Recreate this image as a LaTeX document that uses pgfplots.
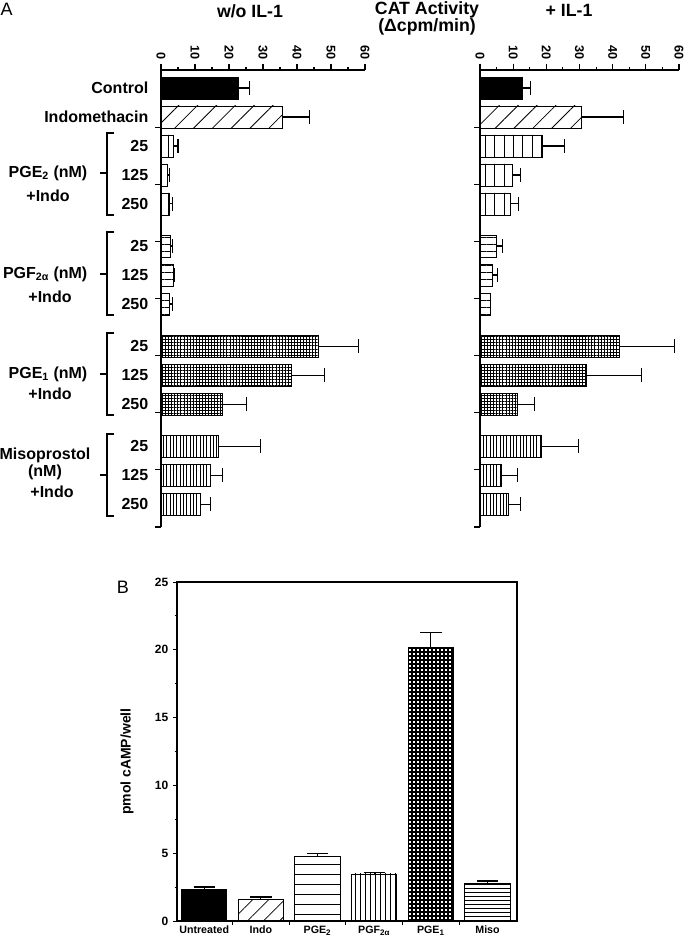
\documentclass[border=0pt]{standalone}
\usepackage{fontspec}
\setmainfont{Liberation Sans}
\usepackage{pgfplots}
\pgfplotsset{compat=1.18}
\usetikzlibrary{patterns.meta}

\pgfplotsset{
  Abase/.style={
    scale only axis, width=153pt, height=342.75pt,
    xmin=0, xmax=60, ymin=-15.14, ymax=0.62,
    axis x line=top, axis y line=left,
    axis line style={-, line width=0.9pt},
    xtick={0,10,...,60}, minor xtick={5,15,...,55},
    tick align=outside, major tick length=4.5pt, minor tick length=2.5pt,
    every tick/.style={black, line width=0.8pt},
    /pgf/number format/assume math mode=true,
    xticklabel style={rotate=-90, anchor=east, font=\bfseries\fontsize{9.5}{10}\selectfont},
    ytick={-1.349,-3.317,-5.290,-7.259,-9.228,-11.197,-13.17,-15.14},
    yticklabels={},
    clip=false,
  },
  Abarplain/.style={xbar, bar width=0.76, bar shift=0pt, draw=black, line width=0.6pt},
  Abar/.style={Abarplain,
    error bars/x dir=plus, error bars/x explicit,
    error bars/error mark=|,
    error bars/error bar style={line width=0.8pt, black, solid},
    error bars/error mark options={line width=0.8pt, black, mark size=5pt, solid}},
  Bbar/.style={ybar, bar width=0.8, bar shift=0pt, draw=black, line width=0.6pt,
    error bars/y dir=plus, error bars/y explicit,
    error bars/error mark=|,
    error bars/error bar style={line width=0.8pt, black, solid},
    error bars/error mark options={line width=0.8pt, black, mark size=8pt, solid}},
}

\begin{document}
\begin{tikzpicture}
\path[use as bounding box] (0,0) rectangle (513.75pt,-708pt);

% ---------- Panel A, left: w/o IL-1 ----------
\begin{axis}[Abase, at={(120.75pt,-395.25pt)}, anchor=south west,
  extra y ticks={0,-1,-2,-3,-4,-5.45,-6.45,-7.45,-8.9,-9.9,-10.9,-12.35,-13.35,-14.35},
  extra y tick labels={Control,Indomethacin,25,125,250,25,125,250,25,125,250,25,125,250},
  extra y tick style={major tick length=0pt, tick style={draw=none}},
  yticklabel style={font=\bfseries\fontsize{12}{13}\selectfont, anchor=east, xshift=-6pt},
]
\addplot[Abar, fill=black] coordinates {(22.9,0) +- (3.2,0)};
\addplot[Abar, fill=white, pattern={Lines[angle=45,distance=10pt,line width=0.6pt]}] coordinates {(35.8,-1) +- (7.9,0)};
\addplot[Abar, pattern={Lines[angle=90,distance=7pt,line width=0.6pt]}] coordinates {
 (3.7,-2) +- (1.3,0) (1.8,-3) +- (0.7,0) (2.5,-4) +- (0.8,0)};
\addplot[Abar, pattern={Lines[angle=0,distance=5.25pt,line width=0.6pt]}] coordinates {
 (2.9,-5.45) +- (0.6,0) (3.6,-6.45) +- (0.3,0) (2.6,-7.45) +- (0.7,0)};
\addplot[Abar, pattern={Hatch[angle=0,distance=2.3pt,line width=0.75pt]}] coordinates {
 (46.4,-8.9) +- (11.8,0) (38.4,-9.9) +- (9.7,0) (18.1,-10.9) +- (7.0,0)};
\addplot[Abar, pattern={Lines[angle=90,distance=2.5pt,line width=0.55pt]}] coordinates {
 (17.0,-12.35) +- (12.3,0) (14.6,-13.35) +- (3.4,0) (11.5,-14.35) +- (3.1,0)};
\end{axis}

% ---------- Panel A, right: + IL-1 ----------
\begin{axis}[Abase, at={(360pt,-395.25pt)}, anchor=south west, width=149.25pt]
\addplot[Abar, fill=black] coordinates {(12.8,0) +- (2.3,0)};
\addplot[Abar, fill=white, pattern={Lines[angle=45,distance=10pt,line width=0.6pt]}] coordinates {(30.5,-1) +- (12.9,0)};
\addplot[Abar, pattern={Lines[angle=90,distance=7pt,line width=0.6pt]}] coordinates {
 (18.7,-2) +- (6.7,0) (9.8,-3) +- (2.3,0) (9.2,-4) +- (2.4,0)};
\addplot[Abar, pattern={Lines[angle=0,distance=5.25pt,line width=0.6pt]}] coordinates {
 (5.0,-5.45) +- (1.9,0) (3.6,-6.45) +- (1.7,0)};
\addplot[Abarplain, pattern={Lines[angle=0,distance=5.25pt,line width=0.6pt]}] coordinates {
 (3.2,-7.45)};
\addplot[Abar, pattern={Hatch[angle=0,distance=2.3pt,line width=0.75pt]}] coordinates {
 (42.0,-8.9) +- (16.6,0) (32.0,-9.9) +- (16.8,0) (11.3,-10.9) +- (5.0,0)};
\addplot[Abar, pattern={Lines[angle=90,distance=2.5pt,line width=0.55pt]}] coordinates {
 (18.4,-12.35) +- (11.2,0) (6.6,-13.35) +- (4.7,0) (8.7,-14.35) +- (3.5,0)};
\end{axis}

% titles panel A
\node[font=\fontsize{13.5}{14}\selectfont] at (5pt,-7pt) {A};
\node[font=\bfseries\fontsize{13.3}{14}\selectfont] at (187.5pt,-8.5pt) {w/o IL-1};
\node[font=\bfseries\fontsize{13.3}{14}\selectfont] at (426.75pt,-8pt) {+ IL-1};
\node[font=\bfseries\fontsize{13.3}{14}\selectfont] at (320.25pt,-7.5pt) {CAT Activity};
\node[font=\bfseries\fontsize{13.3}{14}\selectfont] at (320.25pt,-20.5pt) {(Δcpm/min)};

% brackets and group labels
\begin{scope}[line width=0.8pt]
\foreach \t/\b/\m in {133/215/173, 232/315/274, 333/415/374, 434/516/475}{
  \draw (85.5pt,-\t*0.75pt) -- (80.25pt,-\t*0.75pt) -- (80.25pt,-\b*0.75pt) -- (85.5pt,-\b*0.75pt);
  \draw (75pt,-\m*0.75pt) -- (80.25pt,-\m*0.75pt);
}
\end{scope}
\begin{scope}[font=\bfseries\fontsize{12}{13}\selectfont]
\node[anchor=east] at (69pt,-129.75pt) {PGE\textsubscript{2} (nM)};
\node at (36pt,-146.5pt) {+Indo};
\node[anchor=east] at (69pt,-205.5pt) {PGF\textsubscript{2α} (nM)};
\node at (37.5pt,-222.75pt) {+Indo};
\node[anchor=east] at (69pt,-280.5pt) {PGE\textsubscript{1} (nM)};
\node at (37.5pt,-295.5pt) {+Indo};
\node at (33.75pt,-341.25pt) {Misoprostol};
\node at (33.75pt,-354pt) {(nM)};
\node at (39pt,-369pt) {+Indo};
\end{scope}

% ---------- Panel B ----------
\begin{axis}[at={(132.75pt,-690.75pt)}, anchor=south west, scale only axis,
  width=255pt, height=254.25pt,
  xmin=-0.48, xmax=5.52, ymin=0, ymax=25,
  axis line style={line width=0.8pt},
  tick pos=left, tick align=outside,
  major tick length=3pt, minor tick length=1.8pt,
  every tick/.style={black, line width=0.7pt},
  ytick={0,5,...,25}, minor ytick={2.5,7.5,...,22.5},
  xtick={0.5,1.5,2.5,3.5,4.5}, xticklabels={},
  extra x ticks={0,1,2,3,4,5},
  extra x tick labels={Untreated,Indo,PGE\textsubscript{2},PGF\textsubscript{2α},PGE\textsubscript{1},Miso},
  extra x tick style={major tick length=0pt, tick style={draw=none}},
  /pgf/number format/assume math mode=true,
  yticklabel style={font=\bfseries\fontsize{9}{10}\selectfont},
  xticklabel style={font=\bfseries\fontsize{8}{9}\selectfont},
  ylabel={pmol cAMP/well},
  ylabel style={font=\bfseries\fontsize{10.5}{11}\selectfont, at={(axis description cs:-0.147,0.47)}, anchor=center},
  clip=false,
]
\addplot[Bbar, fill=black] coordinates {(0,2.36) +- (0,0.15)};
\addplot[Bbar, pattern={Lines[angle=45,distance=8.5pt,line width=0.6pt]}] coordinates {(1,1.62) +- (0,0.15)};
\addplot[Bbar, pattern={Lines[angle=0,distance=7.5pt,line width=0.6pt]}] coordinates {(2,4.79) +- (0,0.21)};
\addplot[Bbar, pattern={Lines[angle=90,distance=3.75pt,line width=0.55pt]}] coordinates {(3,3.47) +- (0,0.13)};
\addplot[Bbar, pattern={Hatch[angle=0,distance=3pt,line width=0.8pt]}] coordinates {(4,20.2) +- (0,1.05)};
\addplot[Bbar, pattern={Lines[angle=0,distance=3pt,line width=0.6pt]}] coordinates {(5,2.8) +- (0,0.15)};
\end{axis}
\node[font=\fontsize{13.5}{14}\selectfont] at (92.25pt,-440.25pt) {B};
\end{tikzpicture}
\end{document}
